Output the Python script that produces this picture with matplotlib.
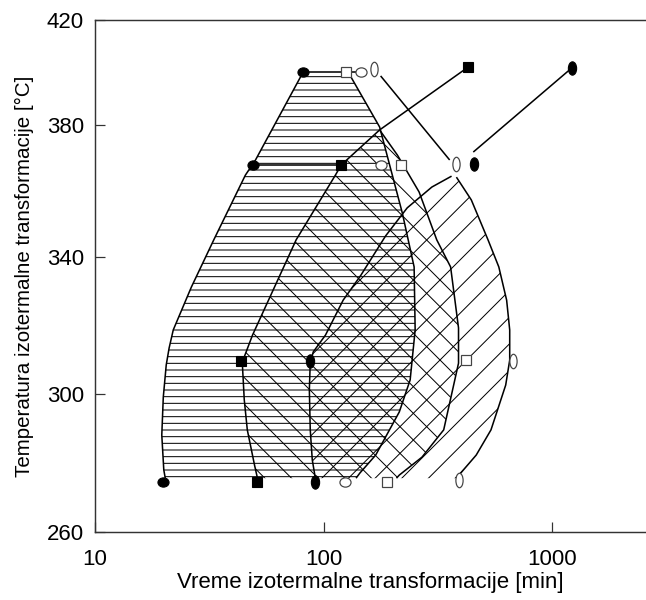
import numpy as np
import matplotlib
matplotlib.use('Agg')
import matplotlib.pyplot as plt
from matplotlib.path import Path
from matplotlib.transforms import Affine2D
from matplotlib.ticker import NullLocator

# printed temperature axis is not evenly spaced in the original figure
Y_TICKS = [260, 300, 340, 380, 420]
Y_POS = [0, 138, 275, 407, 512]
X_TICKS = [10, 100, 1000]

# measured points (time in min, temperature in C)
fe_t = [81.5, 49.2, 19.9]            # filled ellipse
fe_T = [400.2, 368.0, 274.5]
fs_t = [428.5, 119.2, 43.7, 51.4]    # filled square
fs_T = [402.0, 368.0, 309.5, 274.5]
ft_t = [1219, 453.5, 87.3, 91.8]     # filled tall ellipse
ft_T = [401.7, 368.3, 309.5, 274.5]
os_t = [125.3, 219, 421.5, 189.2]    # open square
os_T = [400.2, 368.0, 309.9, 274.5]
oc_t = [145.4, 178.2, 124.8]         # open circle
oc_T = [400.2, 368.0, 274.5]
oz_t = [166, 378.6, 677, 392.2]      # open "0"
oz_T = [401.3, 368.3, 309.5, 275.0]

# boundary curves, top to bottom
h_left_t = [81.5, 50.4, 45.5, 33.1, 26.4, 22.0, 21.1, 20.5, 19.9, 19.6, 20.0, 20.3]
h_left_T = [400.2, 369.4, 364.8, 345.2, 331.2, 318.7, 313.4, 308.5, 299.1, 288.1, 278.0, 275.6]
h_right_t = [128.1, 176, 221.3, 249.2, 251.8, 239.4, 214.6, 169.2, 144.3, 138.8]
h_right_T = [400.2, 379.4, 353.3, 337.1, 318.7, 304.1, 294.8, 282.3, 277.1, 275.6]

b_left_t = [176, 119.6, 112.7, 75.9, 48.9, 44.1, 45.0, 46.4, 49.9, 51.4]
b_left_T = [378.5, 367.9, 364.8, 345.2, 317.2, 309.3, 298.3, 289.6, 279.4, 275.6]
b_right_t = [176, 210.5, 262, 313, 359.9, 389.8, 389.8, 335.7, 269.8, 214.6, 208.6]
b_right_T = [378.5, 370.9, 359.7, 345.2, 337.1, 319.3, 309.0, 289.6, 281.7, 276.5, 275.6]

e_left_t = [363.4, 298, 232.5, 187, 145.8, 121.9, 102, 90.2, 87.5, 86.7, 87.5, 89.3, 92.1]
e_left_T = [364.5, 361.2, 354.9, 346.4, 334.7, 327.4, 317.2, 312.3, 309.3, 301.2, 289.6, 280.9, 275.6]
e_right_t = [381.6, 443.4, 524.7, 585, 633, 652.9, 652.9, 627, 540.6, 465.9, 409.6, 381.6]
e_right_T = [364.2, 357.3, 345.2, 337.1, 327.4, 318.7, 309.9, 302.6, 289.6, 282.3, 278.0, 275.6]

# connecting lines
top_line_t = [81.5, 145.4]
top_line_T = [400.2, 400.2]
row2_line_t = [49.2, 119.2]
row2_line_T = [368.0, 368.0]
fs_top_t = [428.5, 176]
fs_top_T = [402.0, 378.5]
ft_top_t = [1219, 452.3]
ft_top_T = [401.7, 371.8]
oz_top_t = [177.8, 356.5]
oz_top_T = [398.7, 369.4]

plt.rcParams['font.family'] = ['Liberation Sans', 'DejaVu Sans']
plt.rcParams['hatch.linewidth'] = 0.9


def fwd(v):
    return np.interp(v, Y_TICKS, Y_POS)


def inv(v):
    return np.interp(v, Y_POS, Y_TICKS)


fig = plt.figure(figsize=(646 / 80, 600 / 80), dpi=80)
ax = fig.add_axes([95 / 646, 68 / 600, 551 / 646, 512 / 600])
ax.set_xscale('log')
ax.set_yscale('function', functions=(fwd, inv))
ax.set_xlim(10, 2578)
ax.set_ylim(260, 420)


def band(lt, lT, rt, rT, hatch):
    xs = list(lt) + list(rt)[::-1]
    ys = list(lT) + list(rT)[::-1]
    ax.fill(xs, ys, facecolor='none', edgecolor='black', hatch=hatch, linewidth=0, zorder=1)


band(h_left_t, h_left_T, h_right_t, h_right_T, '--')
band(b_left_t, b_left_T, b_right_t, b_right_T, '\\')
band(e_left_t, e_left_T, e_right_t, e_right_T, '/')

lw = 1.4
for t, T in [(h_left_t, h_left_T), (h_right_t, h_right_T),
             (fs_top_t + b_left_t, fs_top_T + b_left_T), (b_right_t, b_right_T),
             (e_left_t, e_left_T), (e_right_t, e_right_T),
             (top_line_t, top_line_T), (row2_line_t, row2_line_T),
             (ft_top_t, ft_top_T), (oz_top_t, oz_top_T)]:
    ax.plot(t, T, color='black', lw=lw, zorder=2, solid_capstyle='butt')

ell_h = Path.unit_circle().transformed(Affine2D().scale(1.2, 1.0))
ell_v = Path.unit_circle().transformed(Affine2D().scale(0.62, 1.0))
ell_0 = Path.unit_circle().transformed(Affine2D().scale(0.5, 1.0))

ax.plot(fe_t, fe_T, ls='none', marker=ell_h, ms=10, color='black', zorder=3)
ax.plot(ft_t, ft_T, ls='none', marker=ell_v, ms=12, color='black', zorder=3)
ax.plot(fs_t, fs_T, ls='none', marker='s', ms=9, color='black', zorder=3)
ax.plot(os_t, os_T, ls='none', marker='s', ms=9, mfc='white', mec='#444444', mew=1.1, zorder=3)
ax.plot(oc_t, oc_T, ls='none', marker=ell_h, ms=10, mfc='white', mec='#444444', mew=1.1, zorder=3)
ax.plot(oz_t, oz_T, ls='none', marker=ell_0, ms=13, mfc='white', mec='#444444', mew=1.1, zorder=3)

ax.set_xticks(X_TICKS)
ax.set_xticklabels([str(v) for v in X_TICKS])
ax.set_yticks(Y_TICKS)
ax.set_yticklabels([str(v) for v in Y_TICKS])
ax.xaxis.set_minor_locator(NullLocator())
ax.yaxis.set_minor_locator(NullLocator())
ax.tick_params(direction='in', length=9, width=1.1, labelsize=20, color='#333333')
ax.tick_params(axis='x', pad=15)
ax.tick_params(axis='y', pad=10)

ax.spines['right'].set_visible(False)
for s in ['left', 'top', 'bottom']:
    ax.spines[s].set_linewidth(1.3)
    ax.spines[s].set_color('#333333')

ax.set_xlabel('Vreme izotermalne transformacije [min]', fontsize=20)
ax.set_ylabel('Temperatura izotermalne transformacije [°C]', fontsize=18.5)
ax.xaxis.set_label_coords(0.5, -0.078)
ax.yaxis.set_label_coords(-0.111, 0.5)

fig.savefig('out.png', dpi=80)
